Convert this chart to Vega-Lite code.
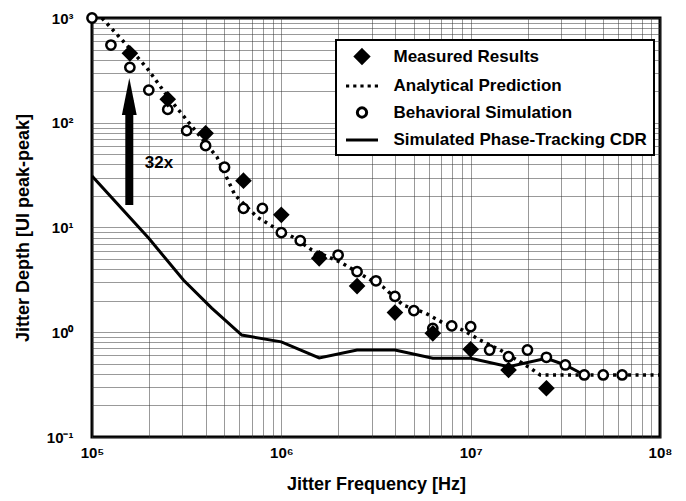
{
  "$schema": "https://vega.github.io/schema/vega-lite/v6.json",
  "width": 568,
  "height": 419,
  "autosize": {"type": "none"},
  "padding": {"left": 92, "top": 18, "right": 26, "bottom": 64},
  "background": "white",
  "config": {
    "font": "Liberation Sans",
    "view": {"stroke": "black", "strokeWidth": 3},
    "axis": {
      "labelFont": "Liberation Sans", "labelFontWeight": "bold", "labelFontSize": 15, "labelColor": "black",
      "titleFont": "Liberation Sans", "titleFontWeight": "bold", "titleFontSize": 18, "titleColor": "black",
      "grid": true, "gridColor": "#333", "gridDash": [1, 1], "gridWidth": 1, "gridOpacity": 1,
      "ticks": false, "domain": false, "labelOverlap": false, "labelBound": false, "labelFlush": false
    },
    "legend": {"strokeColor": "black", "strokeWidth": 2, "fillColor": "white"}
  },
  "datasets": {
    "pts": [
      {"series": "Behavioral Simulation", "f": 100000, "v": 1000},
      {"series": "Behavioral Simulation", "f": 125900, "v": 552},
      {"series": "Behavioral Simulation", "f": 158500, "v": 338},
      {"series": "Behavioral Simulation", "f": 199500, "v": 205},
      {"series": "Behavioral Simulation", "f": 251200, "v": 134},
      {"series": "Behavioral Simulation", "f": 316200, "v": 84},
      {"series": "Behavioral Simulation", "f": 398100, "v": 60.4},
      {"series": "Behavioral Simulation", "f": 501200, "v": 37.6},
      {"series": "Behavioral Simulation", "f": 631000, "v": 15.2},
      {"series": "Behavioral Simulation", "f": 794300, "v": 15.2},
      {"series": "Behavioral Simulation", "f": 1000000, "v": 8.92},
      {"series": "Behavioral Simulation", "f": 1259000, "v": 7.48},
      {"series": "Behavioral Simulation", "f": 1585000, "v": 5.26},
      {"series": "Behavioral Simulation", "f": 1995000, "v": 5.46},
      {"series": "Behavioral Simulation", "f": 2512000, "v": 3.79},
      {"series": "Behavioral Simulation", "f": 3162000, "v": 3.1},
      {"series": "Behavioral Simulation", "f": 3981000, "v": 2.2},
      {"series": "Behavioral Simulation", "f": 5012000, "v": 1.61},
      {"series": "Behavioral Simulation", "f": 6310000, "v": 1.09},
      {"series": "Behavioral Simulation", "f": 7943000, "v": 1.15},
      {"series": "Behavioral Simulation", "f": 10000000, "v": 1.13},
      {"series": "Behavioral Simulation", "f": 12590000, "v": 0.677},
      {"series": "Behavioral Simulation", "f": 15850000, "v": 0.584},
      {"series": "Behavioral Simulation", "f": 19950000, "v": 0.677},
      {"series": "Behavioral Simulation", "f": 25120000, "v": 0.577},
      {"series": "Behavioral Simulation", "f": 31620000, "v": 0.487},
      {"series": "Behavioral Simulation", "f": 39810000, "v": 0.391},
      {"series": "Behavioral Simulation", "f": 50120000, "v": 0.391},
      {"series": "Behavioral Simulation", "f": 63100000, "v": 0.391},
      {"series": "Measured Results", "f": 158500, "v": 460},
      {"series": "Measured Results", "f": 251200, "v": 167.5},
      {"series": "Measured Results", "f": 398100, "v": 79.3},
      {"series": "Measured Results", "f": 631000, "v": 28},
      {"series": "Measured Results", "f": 1000000, "v": 13.2},
      {"series": "Measured Results", "f": 1585000, "v": 5.08},
      {"series": "Measured Results", "f": 2512000, "v": 2.76},
      {"series": "Measured Results", "f": 3981000, "v": 1.54},
      {"series": "Measured Results", "f": 6310000, "v": 0.977},
      {"series": "Measured Results", "f": 10000000, "v": 0.687},
      {"series": "Measured Results", "f": 15850000, "v": 0.436},
      {"series": "Measured Results", "f": 25120000, "v": 0.292}
    ],
    "analytical": [
      {"f": 112900, "v": 1000},
      {"f": 145800, "v": 603},
      {"f": 195200, "v": 333},
      {"f": 252000, "v": 176},
      {"f": 457000, "v": 47.1},
      {"f": 569000, "v": 20.4},
      {"f": 744000, "v": 12.6},
      {"f": 927000, "v": 9.89},
      {"f": 1150000, "v": 8.11},
      {"f": 1450000, "v": 6.1},
      {"f": 2040000, "v": 4.69},
      {"f": 2840000, "v": 3.3},
      {"f": 3450000, "v": 2.7},
      {"f": 4390000, "v": 1.82},
      {"f": 5740000, "v": 1.53},
      {"f": 7140000, "v": 1.23},
      {"f": 9060000, "v": 1.05},
      {"f": 11200000, "v": 0.843},
      {"f": 14300000, "v": 0.677},
      {"f": 17600000, "v": 0.543},
      {"f": 20600000, "v": 0.456},
      {"f": 23300000, "v": 0.391},
      {"f": 100000000, "v": 0.391}
    ],
    "cdr": [
      {"f": 100000, "v": 31},
      {"f": 199500, "v": 7.89},
      {"f": 304000, "v": 3.15},
      {"f": 429000, "v": 1.7},
      {"f": 618000, "v": 0.94},
      {"f": 1000000, "v": 0.81},
      {"f": 1585000, "v": 0.568},
      {"f": 2512000, "v": 0.677},
      {"f": 3981000, "v": 0.677},
      {"f": 6310000, "v": 0.564},
      {"f": 10000000, "v": 0.564},
      {"f": 15850000, "v": 0.469},
      {"f": 25120000, "v": 0.564},
      {"f": 31620000, "v": 0.487},
      {"f": 39810000, "v": 0.391}
    ],
    "arrow": [{"f": 157400, "v": 16.4, "v2": 165}],
    "head": [{"f": 157400, "v": 178}],
    "note": [{"f": 226000, "v": 41.3, "t": "32x"}]
  },
  "encoding": {
    "x": {
      "field": "f", "type": "quantitative",
      "scale": {"type": "log", "domain": [100000, 100000000], "nice": false},
      "axis": {
        "title": "Jitter Frequency [Hz]", "titlePadding": 15, "labelPadding": 8,
        "values": [100000, 200000, 300000, 400000, 500000, 600000, 700000, 800000, 900000, 1000000, 2000000, 3000000, 4000000, 5000000, 6000000, 7000000, 8000000, 9000000, 10000000, 20000000, 30000000, 40000000, 50000000, 60000000, 70000000, 80000000, 90000000, 100000000],
        "labelExpr": "datum.value == 100000 ? '10⁵' : datum.value == 1000000 ? '10⁶' : datum.value == 10000000 ? '10⁷' : datum.value == 100000000 ? '10⁸' : ''"
      }
    },
    "y": {
      "field": "v", "type": "quantitative",
      "scale": {"type": "log", "domain": [0.1, 1000], "nice": false},
      "axis": {
        "title": "Jitter Depth [UI peak-peak]", "titlePadding": 14, "labelPadding": 19,
        "values": [0.1, 0.2, 0.3, 0.4, 0.5, 0.6, 0.7, 0.8, 0.9, 1, 2, 3, 4, 5, 6, 7, 8, 9, 10, 20, 30, 40, 50, 60, 70, 80, 90, 100, 200, 300, 400, 500, 600, 700, 800, 900, 1000],
        "labelExpr": "datum.value == 0.1 ? '10⁻¹' : datum.value == 1 ? '10⁰' : datum.value == 10 ? '10¹' : datum.value == 100 ? '10²' : datum.value == 1000 ? '10³' : ''"
      }
    }
  },
  "layer": [
    {
      "data": {"name": "cdr"},
      "mark": {"type": "line", "color": "black", "strokeWidth": 3, "clip": true},
      "encoding": {}
    },
    {
      "data": {"name": "analytical"},
      "mark": {"type": "line", "color": "black", "strokeWidth": 3.5, "strokeDash": [3, 4.5], "strokeCap": "butt", "clip": true},
      "encoding": {}
    },
    {
      "data": {"name": "pts"},
      "mark": {"type": "point", "strokeWidth": 2.5, "size": 256, "opacity": 1},
      "encoding": {
        "shape": {
          "field": "series", "type": "nominal",
          "scale": {
            "domain": ["Measured Results", "Analytical Prediction", "Behavioral Simulation", "Simulated Phase-Tracking CDR"],
            "range": [
              "M0,-0.82L0.82,0L0,0.82L-0.82,0Z",
              "M-2,0L-1.6,0M-1.1,0L-0.7,0M-0.2,0L0.2,0M0.7,0L1.1,0M1.6,0L2,0",
              "M0.58,0A0.58,0.58,0,1,1,-0.58,0A0.58,0.58,0,1,1,0.58,0Z",
              "M-2,0L2,0"
            ]
          },
          "legend": {
            "title": null, "orient": "none", "legendX": 244, "legendY": 22,
            "symbolSize": 256, "symbolStrokeWidth": 3, "symbolStrokeColor": "black", "symbolOpacity": 1, "symbolOffset": 9.5,
            "labelFont": "Liberation Sans", "labelFontSize": 17, "labelFontWeight": "bold", "labelColor": "black",
            "labelOffset": 22, "labelLimit": 400, "padding": 7, "rowPadding": 6.5
          }
        },
        "fill": {
          "field": "series", "type": "nominal",
          "scale": {
            "domain": ["Measured Results", "Analytical Prediction", "Behavioral Simulation", "Simulated Phase-Tracking CDR"],
            "range": ["black", "transparent", "white", "transparent"]
          },
          "legend": {
            "title": null, "orient": "none", "legendX": 244, "legendY": 22,
            "symbolSize": 256, "symbolStrokeWidth": 3, "symbolStrokeColor": "black", "symbolOpacity": 1, "symbolOffset": 9.5,
            "labelFont": "Liberation Sans", "labelFontSize": 17, "labelFontWeight": "bold", "labelColor": "black",
            "labelOffset": 22, "labelLimit": 400, "padding": 7, "rowPadding": 6.5
          }
        },
        "stroke": {
          "field": "series", "type": "nominal",
          "scale": {
            "domain": ["Measured Results", "Analytical Prediction", "Behavioral Simulation", "Simulated Phase-Tracking CDR"],
            "range": ["black", "black", "black", "black"]
          },
          "legend": {
            "title": null, "orient": "none", "legendX": 244, "legendY": 22,
            "symbolSize": 256, "symbolStrokeWidth": 3, "symbolStrokeColor": "black", "symbolOpacity": 1, "symbolOffset": 9.5,
            "labelFont": "Liberation Sans", "labelFontSize": 17, "labelFontWeight": "bold", "labelColor": "black",
            "labelOffset": 22, "labelLimit": 400, "padding": 7, "rowPadding": 6.5
          }
        }
      }
    },
    {
      "data": {"name": "arrow"},
      "mark": {"type": "rule", "color": "black", "strokeWidth": 8},
      "encoding": {"y2": {"field": "v2"}}
    },
    {
      "data": {"name": "head"},
      "mark": {"type": "point", "shape": "M0,-1L0.4,1L-0.4,1Z", "size": 1369, "filled": true, "color": "black", "opacity": 1},
      "encoding": {}
    },
    {
      "data": {"name": "note"},
      "mark": {"type": "text", "font": "Liberation Sans", "fontSize": 17, "fontWeight": "bold", "color": "black", "align": "center", "baseline": "middle"},
      "encoding": {"text": {"field": "t", "type": "nominal"}}
    }
  ]
}
